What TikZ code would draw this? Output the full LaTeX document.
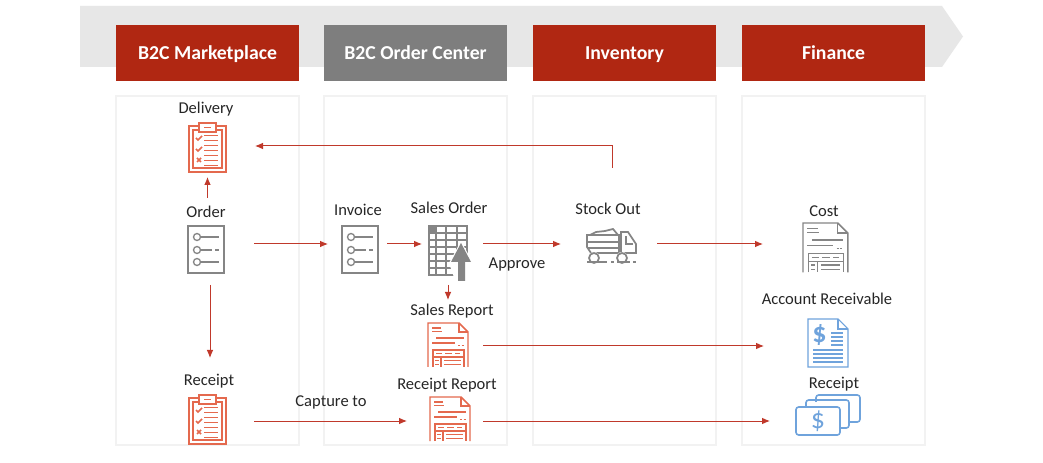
\documentclass[tikz,border=0pt]{standalone}
\usepackage{fontspec}
\setmainfont{Carlito}
\usetikzlibrary{arrows.meta}
\definecolor{brick}{HTML}{B02712}
\definecolor{flowred}{HTML}{C0392B}
\definecolor{iconred}{HTML}{E4694E}
\definecolor{icongrey}{HTML}{858585}
\definecolor{iconblue}{HTML}{6FA3DC}
\definecolor{band}{HTML}{E7E7E7}
\definecolor{panelline}{HTML}{F2F2F2}
\tikzset{
  x=0.75pt,y=-0.75pt,
  panel/.style={draw=panelline,line width=1.1pt,fill=white},
  header/.style={font=\fontsize{14.8}{16}\selectfont\bfseries,text=white,minimum width=137.25pt,minimum height=42pt,inner sep=0pt,text height=11pt,text depth=1pt},
  label/.style={font=\fontsize{12.4}{14}\selectfont,text=black!85,inner sep=0pt},
  anchorbox/.style args={#1x#2}{minimum width=#1*0.75pt,minimum height=#2*0.75pt,inner sep=0pt,outer sep=0pt},
  flow/.style={draw=flowred,line width=0.75pt,-{Latex[length=6pt,width=5pt]}},
  from gap/.style={shorten <=#1*0.75pt},
  to gap/.style={shorten >=#1*0.75pt},
  clipboard/.pic={
    \begin{scope}[draw=#1,line width=1.2pt]
      \draw (0,3) rectangle (37,49);
      \draw[line width=1pt] (4,7) rectangle (33,45);
      \draw[fill=white] (10,0) rectangle (27,9);
      \draw (15,4.5) -- (22,4.5);
      \foreach \y in {13,18,23,28,33,38,43}{\draw[line width=1pt] (15,\y-0.5) -- (29,\y-0.5);}
      \draw (7,15) -- (9,17) -- (13,13);
      \draw (7,26) -- (9,28) -- (13,24);
      \draw (8,35) -- (12,39) (12,35) -- (8,39);
    \end{scope}
  },
  listsheet/.pic={
    \begin{scope}[draw=#1,line width=1pt]
      \draw[line width=1.3pt] (0,0) rectangle (36,47);
      \foreach \y in {11,24,36}{\draw (9,\y) circle (3.5);}
      \draw (13,11) -- (31,11);
      \draw (13,24) -- (24,24) (27,24) -- (31,24);
      \draw (13,36) -- (31,36);
    \end{scope}
  },
  report/.pic={
    \begin{scope}[draw=#1,line width=1.1pt]
      \draw (0,44) -- (0,0) -- (31,0) -- (40,9) -- (40,44);
      \draw (31,0) -- (31,9) -- (40,9);
      \draw[line width=0.9pt] (4,5) -- (13,5) (4,8.5) -- (14,8.5);
      \draw (8,15) -- (36,15) (4,20) -- (27,20);
      \draw[line width=0.8pt,dash pattern=on 1.5pt off 1.2pt] (30,22.5) -- (36,22.5);
      \draw (5,44) -- (5,27) -- (36,27) -- (36,44);
      \draw[line width=0.8pt] (5,34) -- (36,34) (13,34) -- (13,44);
      \draw[line width=0.8pt] (8,30.5) -- (14,30.5) (17,30.5) -- (24,30.5) (27,30.5) -- (32,30.5);
      \foreach \y in {37.5,41.5}{\draw[line width=0.8pt] (16,\y) -- (33,\y) (7,\y) -- (11,\y);}
    \end{scope}
  },
}
\begin{document}
\begin{tikzpicture}
\useasboundingbox (0,0) rectangle (1043,463);
\fill[white] (0,0) rectangle (1043,463);
% banner
\fill[band] (80,6) -- (942,6) -- (963,36.5) -- (942,67) -- (80,67) -- cycle;
% panels
\draw[panel] (116,96) rectangle (299,445);
\draw[panel] (324,96) rectangle (507,445);
\draw[panel] (533,96) rectangle (716,445);
\draw[panel] (742,96) rectangle (925,445);
% headers
\node[header,fill=brick] (hmarket) at (207.5,53) {B2C Marketplace};
\node[header,fill=icongrey!95!black] (hcenter) at (415.5,53) {B2C Order Center};
\node[header,fill=brick] (hinv) at (624.5,53) {Inventory};
\node[header,fill=brick] (hfin) at (833.5,53) {Finance};
% anchor boxes of the icons
\node[anchorbox=37x56] (delivery) at (207.5,146) {};
\node[anchorbox=44x60] (order) at (210,244) {};
\node[anchorbox=36x60] (invoice) at (360,244) {};
\node[anchorbox=42x76] (salesorder) at (450,244) {};
\node[anchorbox=52x36] (truck) at (612,244) {};
\node[anchorbox=44x60] (cost) at (825,244) {};
\node[anchorbox=40x44] (salesreport) at (448,346) {};
\node[anchorbox=40x48] (ar) at (828,346) {};
\node[anchorbox=37x52] (receiptclip) at (207.5,421) {};
\node[anchorbox=40x48] (receiptreport) at (450,421) {};
\node[anchorbox=64x44] (money) at (828,421) {};
% icons
\pic at (189,123) {clipboard=iconred};
\pic at (189,395) {clipboard=iconred};
\pic at (188,226) {listsheet=icongrey};
\pic at (342,226) {listsheet=icongrey};
\pic at (428,323) {report=iconred};
\pic at (430,397) {report=iconred};
\pic[scale=1.12] at (803,223) {report=icongrey};
% sales order grid
\begin{scope}[draw=icongrey,line width=0.9pt]
  \fill[icongrey] (429,226) rectangle (436,233);
  \draw (429,226) rectangle (467,275);
  \foreach \x in {436,446,457}{\draw (\x,226) -- (\x,275);}
  \foreach \y in {233,240,247,254,261,268}{\draw (429,\y) -- (467,\y);}
\end{scope}
\fill[white] (461,241) -- (473,263) -- (467,283) -- (456,283) -- (449,263) -- cycle;
\fill[icongrey] (461,243) -- (471,262) -- (465,262) -- (465,281) -- (458,281) -- (458,262) -- (451,262) -- cycle;
% truck
\begin{scope}[draw=icongrey,line width=1.3pt]
  \draw (590,235) -- (596,232) -- (605,231) -- (613,229) -- (618,235);
  \draw (587,235) -- (619,235) -- (619,253) -- (591,253) -- (587,247) -- cycle;
  \draw (587,242) -- (619,242) (587,248) -- (619,248);
  \draw (621,253) -- (621,232) -- (628,232) -- (636,244) -- (636,253) -- cycle;
  \draw (626,236) -- (626,244) -- (633,244);
  \fill[white] (594,258) circle (6) (622,258) circle (6);
  \draw (594,258) circle (5) (622,258) circle (5);
  \draw (587,262) -- (607,262) (611,262) -- (614,262) (617,262) -- (630,262) (633,262) -- (636,262);
\end{scope}
% account receivable doc
\begin{scope}[draw=iconblue,line width=0.8pt]
  \draw (808,367) -- (808,319) -- (838,319) -- (848,329) -- (848,367) -- cycle;
  \draw (838,319) -- (838,329) -- (848,329);
  \foreach \y in {333,337,341,345}{\draw (831,\y) -- (843,\y);}
  \foreach \y in {350,354,358,362}{\draw (813,\y) -- (843,\y);}
\end{scope}
\node[inner sep=0pt,text=iconblue,font=\fontsize{21}{22}\selectfont\bfseries] (ardollar) at (819.5,335) {\$};
% receipt money
\begin{scope}[draw=iconblue,line width=1.2pt,rounded corners=2pt]
  \draw (816,402) -- (816,395) -- (860,395) -- (860,422) -- (850,422);
  \draw (806,407) -- (806,400) -- (849,400) -- (849,428) -- (840,428);
  \draw (796,407) rectangle (840,435);
\end{scope}
\node[inner sep=0pt,text=iconblue,font=\fontsize{21}{22}\selectfont] (mdollar) at (818,421) {\$};
% labels
\node[label] (tdelivery) at (206,109) {Delivery};
\node[label] (torder) at (206,212) {Order};
\node[label] (tinvoice) at (358,210) {Invoice};
\node[label] (tso) at (449,208) {Sales Order};
\node[label] (tapprove) at (517,265) {Approve};
\node[label] (tsr) at (452,311) {Sales Report};
\node[label] (trr) at (447,385) {Receipt Report};
\node[label] (tstock) at (608,209) {Stock Out};
\node[label] (tcost) at (824,211) {Cost};
\node[label] (tar) at (827,299) {Account Receivable};
\node[label] (tmr) at (834,384) {Receipt};
\node[label] (trc) at (209,381) {Receipt};
\node[label] (tcap) at (331,402) {Capture to};
% connectors
\draw[flow,from gap=16,to gap=3] (order.north -| delivery.south) -- (delivery.south);
\draw[flow,from gap=58,to gap=29] (truck.north) |- (delivery.east);
\draw[flow,from gap=22,to gap=14] (order.east) -- (invoice.west);
\draw[flow,from gap=11,to gap=37] (order.south) -- (order.south |- receiptclip.north);
\draw[flow,from gap=9,to gap=7] (invoice.east) -- (salesorder.west);
\draw[flow,from gap=12,to gap=25] (salesorder.east) -- (truck.west);
\draw[flow,from gap=19,to gap=40] (truck.east) -- (cost.west);
\draw[flow,from gap=3,to gap=24] (salesorder.south -| salesreport.north) -- (salesreport.north);
\draw[flow,from gap=15,to gap=44] (salesreport.east) -- (ar.west);
\draw[flow,from gap=28,to gap=23] (receiptclip.east) -- (receiptreport.west);
\draw[flow,from gap=13,to gap=26] (receiptreport.east) -- (money.west);
\end{tikzpicture}
\end{document}
